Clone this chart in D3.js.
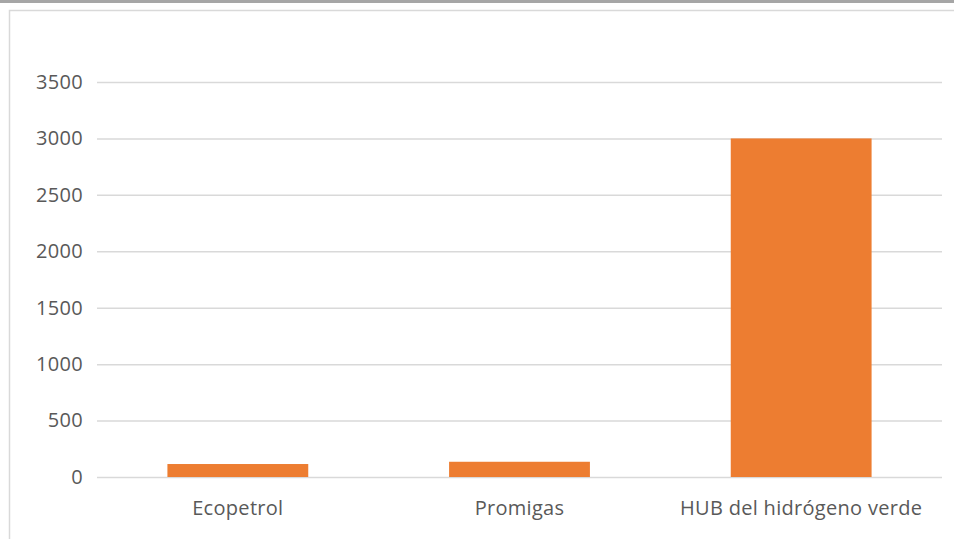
<!DOCTYPE html>
<html>
<head>
<meta charset="utf-8">
<script src="https://cdn.jsdelivr.net/npm/d3@7"></script>
<style>
    body { margin: 0; background: #fff; }
    svg { display: block; }
</style>
</head>
<body>
<svg id="chart"></svg>
<script>
// Chart data
const categories = ["Ecopetrol", "Promigas", "HUB del hidrógeno verde"];
const values = [115, 135, 3000];
const yTicks = [0, 500, 1000, 1500, 2000, 2500, 3000, 3500];

const width = 954;
const height = 539;
const margin = {top: 82, right: 12, bottom: 62, left: 97};
const barColor = "#ed7d31";
const textColor = "#595959";
const fontFamily = "'Open Sans', sans-serif";

const svg = d3.select("#chart")
              .attr("width", width)
              .attr("height", height);

// Window strip at top and chart frame
svg.append("rect")
   .attr("x", 0).attr("y", 0)
   .attr("width", width).attr("height", 3)
   .attr("fill", "#a6a6a6");
svg.append("rect")
   .attr("x", 9.5).attr("y", 10.5)
   .attr("width", width + 10).attr("height", height + 10)
   .attr("fill", "none")
   .attr("stroke", "#d9d9d9")
   .attr("stroke-width", 1.5);

// Scales
const x = d3.scaleBand()
            .domain(categories)
            .range([margin.left, width - margin.right])
            .paddingInner(0.5)
            .paddingOuter(0.25);
const y = d3.scaleLinear()
            .domain([0, 3500])
            .range([height - margin.bottom, margin.top]);

// Gridlines and y labels
const yAxis = d3.axisLeft(y)
                .tickValues(yTicks)
                .tickSize(-(width - margin.left - margin.right))
                .tickPadding(14)
                .tickFormat(d3.format("d"));
const gy = svg.append("g")
              .attr("transform", `translate(${margin.left},0)`)
              .call(yAxis);
gy.select(".domain").remove();
gy.selectAll(".tick line")
  .attr("stroke", "#d9d9d9")
  .attr("stroke-width", 1.5);
gy.selectAll(".tick text")
  .attr("fill", textColor)
  .style("font-family", fontFamily)
  .style("font-size", "20px")
  .style("letter-spacing", "0.3px");

// Bars
svg.append("g")
   .selectAll("rect")
   .data(categories)
   .join("rect")
   .attr("x", d => x(d))
   .attr("width", x.bandwidth())
   .attr("y", (d, i) => y(values[i]))
   .attr("height", (d, i) => y(0) - y(values[i]))
   .attr("fill", barColor);

// Category labels
const xAxis = d3.axisBottom(x).tickSize(0).tickPadding(24);
const gx = svg.append("g")
              .attr("transform", `translate(0,${y(0)})`)
              .call(xAxis);
gx.select(".domain").remove();
gx.selectAll(".tick text")
  .attr("fill", textColor)
  .style("font-family", fontFamily)
  .style("font-size", "20px")
  .style("letter-spacing", "0.3px");
</script>
</body>
</html>
